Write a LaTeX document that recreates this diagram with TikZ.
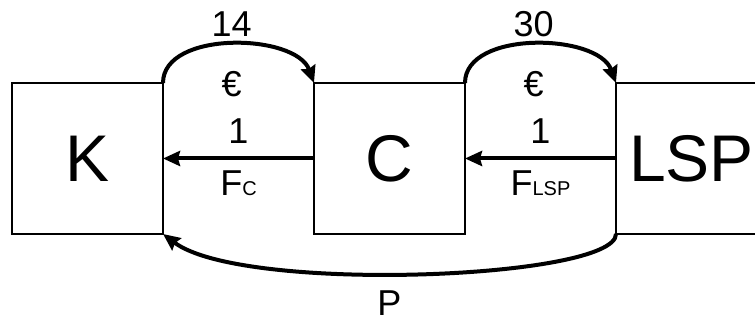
\documentclass[tikz,border=0pt]{standalone}
\usepackage{fontspec}
\setmainfont{Liberation Sans}
\usetikzlibrary{arrows.meta,positioning}
\newcommand{\subsz}{\fontsize{20}{20}\selectfont}

\begin{document}
\begin{tikzpicture}[x=1pt, y=1pt, node distance=151pt]
\clip (0,0) rectangle (755,323);
\tikzstyle{party}=[draw, line width=1.8pt, minimum width=151pt,
  minimum height=151pt, inner sep=0pt, outer sep=0pt,
  font=\fontsize{66}{66}\selectfont]
\tikzstyle{lbl}=[inner sep=0pt, font=\fontsize{36}{36}\selectfont]
\tikzstyle{flow}=[-{Stealth[length=17pt,width=15pt,inset=2pt]}, line width=4pt]
\node[party] (k) at (87.5,164.5) {K};
\node[party, right=of k] (c) {C};
\node[party, right=of c] (lsp) {LSP};
% money one way, goods the other
\draw[flow] (k.north east) to[out=90, in=110, looseness=0.9]
  node[lbl, above=6pt] (n14) {14} node[lbl, below=25pt] (eur1) {€} (c.north west);
\draw[flow] (c.north east) to[out=90, in=110, looseness=0.9]
  node[lbl, above=6pt] (n30) {30} node[lbl, below=25pt] (eur2) {€} (lsp.north west);
\draw[flow] (c.west) -- node[lbl, above=13pt] (one1) {1}
  node[lbl, below=10pt] (fc) {F{\subsz C}} (k.east);
\draw[flow] (lsp.west) -- node[lbl, above=13pt] (one2) {1}
  node[lbl, below=10pt] (flsp) {F{\subsz LSP}} (c.east);
\draw[flow] (lsp.south west) .. controls +(0,-45) and +(80,-60) .. (k.south east);
\node[lbl, below=57pt of c] (pay) {P};
\end{tikzpicture}
\end{document}
